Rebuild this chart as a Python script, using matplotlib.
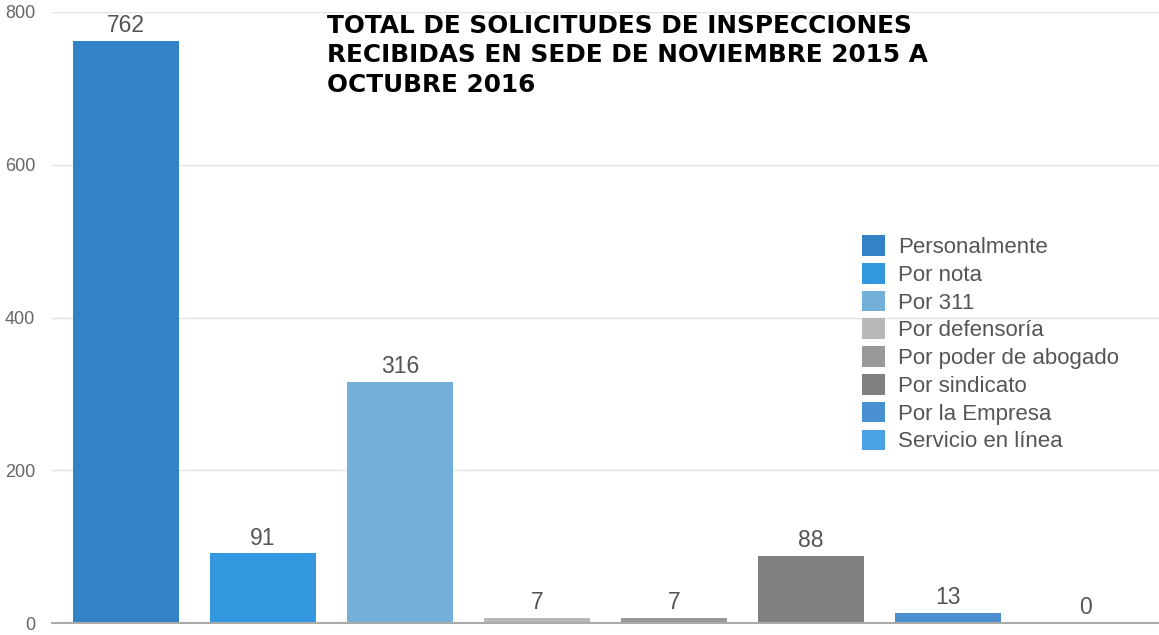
import matplotlib.pyplot as plt
import numpy as np

# data
categories = ['Personalmente', 'Por nota', 'Por 311', 'Por defensoría',
              'Por poder de abogado', 'Por sindicato', 'Por la Empresa',
              'Servicio en línea']
values = [762, 91, 316, 7, 7, 88, 13, 0]
colors = ['#3282C8', '#3398E0', '#72B0D7', '#B8B8B8',
          '#999999', '#808080', '#4A90D0', '#4BA3E3']

title = ('TOTAL DE SOLICITUDES DE INSPECCIONES\n'
         'RECIBIDAS EN SEDE DE NOVIEMBRE 2015 A\n'
         'OCTUBRE 2016')

plt.rcParams['font.family'] = ['Liberation Sans', 'DejaVu Sans']

fig = plt.figure(figsize=(11.59, 6.35), dpi=100)
ax = fig.add_axes([52 / 1159, 12 / 635, 1 - 52 / 1159, 611 / 635])

for i, (v, c, lab) in enumerate(zip(values, colors, categories)):
    ax.bar(i, v, width=0.774, color=c, label=lab, zorder=3)
    ax.text(i, v + 5, str(v), ha='center', va='bottom',
            fontsize=16.5, color='#555555')

ax.set_xlim(-0.54, len(values) - 0.46)
ax.set_ylim(0, 800)
ax.set_yticks([0, 200, 400, 600, 800])
ax.set_xticks([])
ax.grid(axis='y', color='#e3e3e3', linewidth=1, zorder=0)
for s in ['top', 'right', 'left']:
    ax.spines[s].set_visible(False)
ax.spines['bottom'].set_color('#aaaaaa')
ax.spines['bottom'].set_linewidth(1.5)
ax.spines['bottom'].set_zorder(4)
ax.tick_params(axis='y', length=0, pad=12, labelsize=13, labelcolor='#666666')

fig.text(327 / 1159, 1 - 14 / 635, title, ha='left', va='top',
         fontsize=17.8, fontweight='bold', color='black',
         family=['DejaVu Sans'], linespacing=1.28)

leg = ax.legend(loc='upper left', bbox_to_anchor=(851 / 1159, 1 - 224 / 635),
                bbox_transform=fig.transFigure, frameon=False,
                fontsize=16, handlelength=1.05, handleheight=1.05,
                handletextpad=0.55, labelspacing=0.22, borderpad=0)
for t in leg.get_texts():
    t.set_color('#555555')

fig.savefig('out.png', dpi=100)
